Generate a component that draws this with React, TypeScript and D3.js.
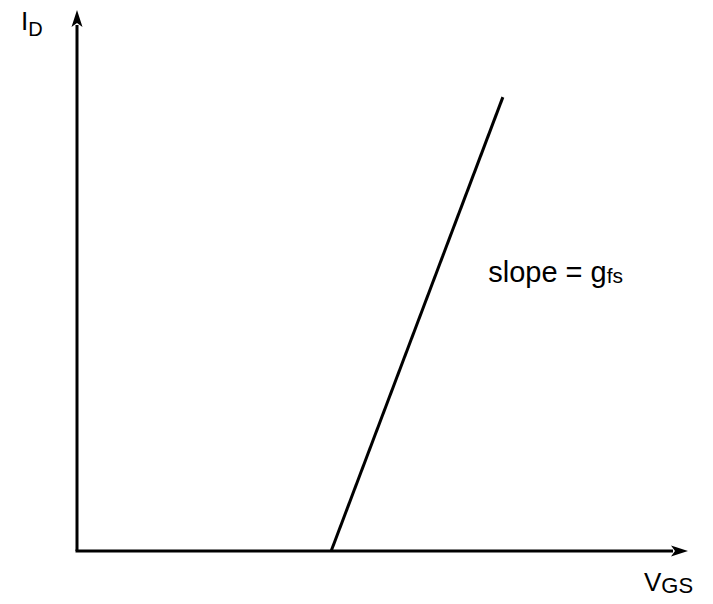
import React from "react";
import * as d3 from "d3";

// Transfer characteristic: drain current vs gate-source voltage
const vgsValues = [4.16, 6.97];
const idValues = [0, 8.39];
const xDomain = [0, 10];
const yDomain = [0, 10];
const slopeLabel = { text: "slope = g", sub: "fs", at: [6.73, 4.97] };
const xAxisLabel = { main: "V", sub: "GS" };
const yAxisLabel = { main: "I", sub: "D" };

const W = 713;
const H = 604;

export default function App() {
  const x = d3.scaleLinear().domain(xDomain).range([77, 688]);
  const y = d3.scaleLinear().domain(yDomain).range([551, 10]);

  const line = d3
    .line<number>()
    .x((_, i) => x(vgsValues[i]))
    .y((d) => y(d));

  const x0 = x(0);
  const y0 = y(0);
  const xEnd = x(xDomain[1]);
  const yEnd = y(yDomain[1]);
  const head = 17;
  const half = 5.5;

  const font = "'Liberation Sans', Arial, Helvetica, sans-serif";

  return (
    <svg
      width={W}
      height={H}
      style={{ position: "absolute", left: 0, top: 0, background: "#fff" }}
      fontFamily={font}
    >
      {/* axes */}
      <line x1={x0} y1={y0} x2={x0} y2={yEnd + head - 2} stroke="#000" strokeWidth={3} />
      <line x1={x0 - 1.5} y1={y0} x2={xEnd - head + 2} y2={y0} stroke="#000" strokeWidth={3} />
      <path
        d={`M${x0},${yEnd} L${x0 - half},${yEnd + head} L${x0},${yEnd + head - 4} L${x0 + half},${yEnd + head} Z`}
        fill="#000"
      />
      <path
        d={`M${xEnd},${y0} L${xEnd - head},${y0 - half} L${xEnd - head + 4},${y0} L${xEnd - head},${y0 + half} Z`}
        fill="#000"
      />

      {/* characteristic line */}
      <path d={line(idValues) || ""} fill="none" stroke="#000" strokeWidth={3} />

      {/* labels */}
      <text x={21} y={30} fontSize={26} fill="#000">
        {yAxisLabel.main}
        <tspan fontSize={20} dy={6}>{yAxisLabel.sub}</tspan>
      </text>
      <text x={644} y={591} fontSize={26} fill="#000">
        {xAxisLabel.main}
        <tspan fontSize={22} dy={2}>{xAxisLabel.sub}</tspan>
      </text>
      <text x={x(slopeLabel.at[0])} y={y(slopeLabel.at[1])} fontSize={29} fill="#000">
        {slopeLabel.text}
        <tspan fontSize={21} dy={1}>{slopeLabel.sub}</tspan>
      </text>
    </svg>
  );
}
